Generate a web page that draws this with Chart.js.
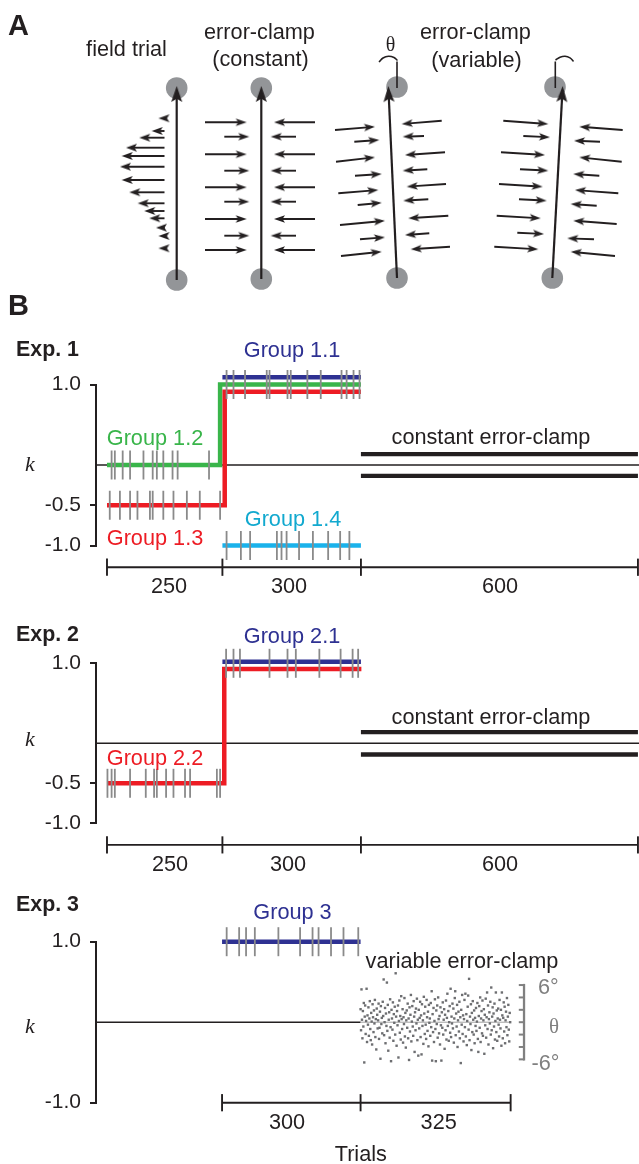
<!DOCTYPE html>
<html>
<head>
<meta charset="utf-8">
<title>Error-clamp paradigm</title>
<script src="https://cdn.jsdelivr.net/npm/chart.js@4.4.1/dist/chart.umd.min.js"></script>
<style>
  html, body { margin:0; padding:0; background:#fff; }
  #fig { position:relative; width:639px; height:1164px; overflow:hidden;
         font-family:"Liberation Sans", Arial, Helvetica, sans-serif; color:#231f20; }
  #fig canvas { position:absolute; left:0; }
  .lbl { position:absolute; white-space:nowrap; line-height:1; font-size:21.7px; }
  .c { transform:translate(-50%,-50%); }
  .l { transform:translate(0,-50%); }
  .b { font-weight:bold; }
  .s { font-family:"Liberation Serif", "Times New Roman", serif; }
  .i { font-style:italic; }
</style>
</head>
<body>
<div id="fig">
  <canvas id="panelA" width="639" height="300" style="top:0px"></canvas>
  <canvas id="exp1" width="639" height="270" style="top:330px"></canvas>
  <canvas id="exp2" width="639" height="270" style="top:610px"></canvas>
  <canvas id="exp3" width="639" height="279" style="top:885px"></canvas>
</div>
<script>
// ================= DATA =================
// ---- Panel A (schematic, drawing units) ----
const circleX = [176.7, 176.7, 261.3, 261.3, 397, 397, 555, 552.3];
const circleY = [88, 280, 88, 279, 87, 278, 87, 278];
const reachTailX = [176.7, 261.3, 397, 552.3];
const reachTailY = [280, 279, 278, 278];
const reachTipX  = [176.7, 261.3, 388.3, 562.7];
const reachTipY  = [86, 86, 86, 86];
// field trial: velocity-dependent force profile
const fieldRowY  = [118.3, 131, 137.7, 147.7, 156, 166.7, 180, 192.3, 203.3, 211, 218.3, 227.7, 236, 248.3];
const fieldTipX  = [158.5, 151.7, 139.3, 126, 121.7, 120, 121.7, 129.3, 137.7, 144.3, 149.3, 156, 158.5, 158.5];
const fieldTailX = [164.5, 164.5, 164.5, 164.5, 164.5, 164.5, 164.5, 164.5, 164.5, 164.5, 164.5, 164.5, 164.5, 164.5];
// constant error-clamp: channel walls
const constRowY       = [122.3, 136.7, 154.3, 170.7, 187.3, 201.7, 219, 235.7, 250];
const constLeftTailX  = [205, 224.3, 205, 224.3, 205, 224.3, 205, 224.3, 205];
const constLeftTipX   = [246.7, 249.3, 246.7, 249.3, 246.7, 249.3, 246.7, 249.3, 246.7];
const constRightTailX = [315, 296, 315, 296, 315, 296, 315, 296, 315];
const constRightTipX  = [274, 270.7, 274, 270.7, 274, 270.7, 274, 270.7, 274];
// variable error-clamp arrows: [tailX, tailY, tipX, tipY]
const var1Left = [[335,130,375,126.7],[354.3,141.7,379.3,140],[336,161.7,375,157.3],[355,175.7,381.7,174],[338.3,193.3,378.3,190],[357.7,205,381.7,202.7],[340,225,385,220.7],[360,239.3,385,237.3],[341,256,381.7,251.7]];
const var1Right = [[441.7,120.7,401.7,124],[424,136,402.7,136.7],[445,152.3,405,155],[427.3,169.3,402.7,170.7],[446,184,406.7,186.7],[428.3,199.3,403.3,200.7],[448.3,215.7,408.3,218.3],[429.3,233.3,405,235],[450,246.7,410.7,249.3]];
const var2Left = [[503.3,120.7,548.3,124],[523.3,136,550,137.3],[501,152.3,545,155],[520,169.3,548.3,170.7],[499,184,542.7,186.7],[519,199.3,546.7,200.7],[496.7,215.7,540.7,218.3],[517.3,232.7,544,234],[494.3,246.7,538.3,249.3]];
const var2Right = [[622.7,130,579.3,126.7],[600,141.7,574,140.7],[621.7,161.7,579.3,157.3],[599.3,175.7,573.3,174],[618.3,193.3,575,190],[596.7,205.7,570.7,204],[616.7,224,573.3,220.7],[594,239.3,567.3,238.3],[615,256,570.7,251.7]];
// angle θ markers
const refLineX = [397, 555.3];
const refLineY = [61.5, 88];
const arc1X = [379, 383, 388.5, 394, 397.5];
const arc1Y = [62, 58, 56.2, 57.5, 60.5];
const arc2X = [555.5, 560, 565, 570, 573.5];
const arc2Y = [60, 57.2, 56.2, 57.8, 61.5];

// ---- Panel B ----
const yTicksExp12 = [1.0, -0.5, -1.0];
const yTicksExp3  = [1.0, -1.0];
// Exp. 1 (trials)
const exp1Blocks = [0, 250, 550, 1150];
const g11Trials = [250, 550];          const g11K = [1.09, 1.09];
const g12Trials = [0, 245, 245, 550];  const g12K = [0, 0, 1.0, 1.0];
const g13Trials = [0, 255, 255, 550];  const g13K = [-0.5, -0.5, 0.91, 0.91];
const g14Trials = [250, 550];          const g14K = [-1.0, -1.0];
const exp1ClampBlock = [550, 1150];
const g12ClampTrials = [10, 17, 34, 50, 79, 99, 108, 122, 142, 153, 221];
const g13ClampTrials = [6, 28, 50, 66, 93, 99, 122, 144, 173, 201, 245];
const g11ClampTrials = [259, 274, 299, 346, 352, 391, 398, 434, 463, 508, 519, 534, 547];
const g14ClampTrials = [259, 290, 310, 368, 378, 389, 416, 446, 479, 505, 525];
// Exp. 2
const exp2Blocks = [0, 250, 550, 1150];
const g21Trials = [250, 550];          const g21K = [1.02, 1.02];
const g22Trials = [0, 254, 254, 551];  const g22K = [-0.5, -0.5, 0.93, 0.93];
const exp2ClampBlock = [550, 1150];
const g22ClampTrials = [1, 10, 17, 50, 84, 102, 108, 128, 144, 169, 180, 238, 245];
const g21ClampTrials = [258, 274, 288, 352, 391, 409, 460, 506, 532, 544];
// Exp. 3
const exp3Blocks = [0, 300, 625];
const g3Trials = [0, 300];             const g3K = [1.0, 1.0];
const g3ClampTrials = [10, 37, 52, 71, 122, 169, 196, 209, 236, 263, 295];
const varClampStart = 300;
const thetaTicks = [6, 4, 2, 0, -2, -4, -6];
// θ (deg) on each of the 325 variable error-clamp trials
const clampTheta = [
 2.1,-1.3,5.3,0.4,-2.6,1.8,-0.7,3.1,-6.5,0.9,2.7,-1.9,0.2,5.4,-3.2,1.1,-0.4,2.4,-2.2,0.6,3.4,-1.1,-2.9,1.5,0.1,
 -3.6,2.9,0.8,-1.6,1.9,-0.2,3.6,-2.4,0.5,-4.4,2.2,1.2,-1.0,0.3,3.0,-2.7,-0.9,1.7,-5.9,2.6,-0.3,0.7,-1.8,3.3,1.0,
 6.9,-2.1,0.0,2.3,-3.4,1.4,-0.6,6.4,-1.4,2.8,-4.6,0.4,1.6,-2.5,3.7,-0.8,-6.3,2.0,0.6,-1.2,3.2,-3.0,1.3,-0.1,2.5,
 -2.0,7.9,0.9,-3.8,1.8,-0.5,2.7,-5.7,0.2,3.5,-1.7,1.0,-2.8,4.2,0.5,-1.1,2.1,-3.3,0.8,-0.3,3.9,-2.3,1.5,-4.1,0.3,
 1.9,-0.9,3.0,-2.6,0.6,-6.1,2.4,-1.5,1.2,4.4,-3.1,0.1,2.6,-0.7,-2.2,3.4,0.9,-4.8,1.6,-1.3,2.2,-0.2,3.8,-2.9,0.4,
 -5.4,2.0,-1.0,0.7,3.3,-2.4,1.1,-5.2,2.9,-0.6,0.3,-3.5,4.1,1.4,-1.9,2.5,-0.4,-2.7,3.6,0.8,-1.4,1.7,-3.9,2.8,-0.1,
 0.6,-2.2,3.1,-0.8,5.0,-6.2,1.3,-1.6,2.3,-3.2,0.2,3.7,-1.1,-6.3,1.9,-0.3,2.7,-2.5,4.0,0.5,-1.8,1.0,-3.6,2.4,-0.5,
 -6.2,1.6,-0.9,3.2,-2.0,0.4,2.1,-4.3,1.2,-1.3,3.5,-2.8,0.7,4.6,-0.6,1.8,-3.0,0.0,2.6,-1.7,5.4,-2.4,0.9,-0.2,3.0,
 -1.0,2.2,-3.3,0.6,3.9,5.0,-2.1,1.4,-0.7,2.8,-4.0,0.3,1.7,-1.5,3.3,-2.6,0.8,-6.6,2.0,-0.4,4.4,-1.9,1.1,-3.1,0.5,
 3.6,-0.8,4.6,-2.3,1.3,-3.7,0.2,2.5,4.3,-1.2,7.0,-2.9,0.9,-0.3,2.9,-4.5,1.5,-1.6,3.4,0.4,-2.0,1.9,-3.4,0.7,-0.6,
 2.3,-1.4,0.1,3.1,-2.7,-4.8,1.0,2.6,-0.9,4.0,-3.2,0.6,1.8,-1.8,3.5,-2.2,0.3,2.1,-5.1,1.2,-0.5,3.8,-2.5,0.8,4.8,
 -1.1,2.7,-3.6,0.5,1.6,-0.2,3.3,-2.0,5.6,-1.3,0.9,2.4,-4.2,1.4,-0.7,3.0,-2.8,0.2,4.8,-1.6,1.9,-3.0,0.6,2.2,-0.4,
 -2.3,3.6,0.4,-1.0,2.0,-3.8,4.8,1.1,-2.6,0.7,3.2,-1.5,2.5,-3.4,0.3,1.7,-0.8,3.9,-2.1,0.9,2.8,-1.2,-3.1,1.5,0.0
];

// ================= STYLE / LAYOUT =================
const FONT = '"Liberation Sans", Arial, Helvetica, sans-serif';
const INK = '#231f20', BLUE = '#2e3192', GREEN = '#39b54a', RED = '#ed1c24';
const CYAN = '#1ab2eb', CYAN_TXT = '#12a9cf', TICKGRAY = '#8a8a8a', DOTGRAY = '#6d6e71';
const THETA_GRAY = '#808080', CIRCLE = '#939598';
const AXIS_X = 96;
const X12 = {min: -23.8, max: 1152.3};
const X3  = {min: -273, max: 903};
const CONST_OFF1 = 0.135, CONST_OFF2 = 0.14;
const BRACKET_H = 0.107;
const THETA_AXIS_TRIAL = 654, THETA_TICK_TRIAL = 648.5;

const pts = (xs, ys) => xs.map((x, i) => ({x, y: ys[i]}));
const level = (xs, k) => xs.map(x => ({x, y: k}));

function lineDS(data, color, width, order, extra) {
  return Object.assign({data, showLine: true, borderColor: color, backgroundColor: color,
    borderWidth: width, pointRadius: 0, pointHoverRadius: 0, tension: 0, fill: false,
    order, clip: false, borderCapStyle: 'butt', borderJoinStyle: 'miter'}, extra || {});
}
function tickDS(data, color, r, width, order, rot, axis) {
  return {data, showLine: false, pointStyle: 'line', pointRotation: rot, pointRadius: r,
    pointHoverRadius: r, pointBorderColor: color, pointBackgroundColor: color,
    pointBorderWidth: width, order, clip: false, yAxisID: axis || 'y'};
}
function bracketDS(bounds, yk) {
  const out = [lineDS(level([bounds[0], bounds[bounds.length - 1]], yk), INK, 1.9, 3)];
  bounds.forEach(b => out.push(lineDS([{x: b, y: yk - BRACKET_H}, {x: b, y: yk + BRACKET_H}], INK, 1.9, 3)));
  return out;
}
function yAxis(ticks) {
  return {type: 'linear', position: 'left', min: -1, max: 1, bounds: 'data',
    afterBuildTicks: s => { s.ticks = ticks.map(v => ({value: v})); },
    afterFit: s => { s.width = AXIS_X; },
    border: {display: true, color: INK, width: 2},
    grid: {display: true, drawOnChartArea: false, drawTicks: true, tickLength: 6, color: INK, lineWidth: 2},
    ticks: {color: INK, padding: 9, font: {family: FONT, size: 21}, callback: v => Number(v).toFixed(1)}
  };
}
const commonPlugins = {legend: {display: false}, tooltip: {enabled: false}, colors: {enabled: false}};

function expChart(id, canvasTop, areaTop, areaBottom, xr, yTicks, datasets, extraScales) {
  const cv = document.getElementById(id);
  return new Chart(cv, {
    type: 'scatter',
    data: {datasets},
    options: {
      responsive: false, animation: false, events: [],
      layout: {autoPadding: false,
               padding: {top: areaTop - canvasTop, bottom: canvasTop + cv.height - areaBottom, left: 0, right: 0}},
      scales: Object.assign({
        x: {type: 'linear', display: false, min: xr.min, max: xr.max, bounds: 'data'},
        y: yAxis(yTicks)
      }, extraScales || {}),
      plugins: commonPlugins
    }
  });
}

// ================= PANEL A =================
function makeHead(L, W, notch) {
  const c = document.createElement('canvas');
  c.width = Math.ceil(W) + 2; c.height = Math.ceil(2 * L) + 2;
  const g = c.getContext('2d');
  const cx = c.width / 2, ty = c.height / 2;
  g.fillStyle = INK;
  g.beginPath();
  g.moveTo(cx, ty);
  g.lineTo(cx + W / 2, ty + L);
  g.lineTo(cx, ty + L * (1 - notch));
  g.lineTo(cx - W / 2, ty + L);
  g.closePath(); g.fill();
  return c;
}
const HEAD = {
  big:   {L: 16, W: 11, img: makeHead(16, 11, 0.2), lw: 2.2},
  small: {L: 11, W: 7.5, img: makeHead(11, 7.5, 0.22), lw: 1.9},
  field: {L: 11, W: 8, img: makeHead(11, 8, 0.22), lw: 1.9}
};
const arrowsA = [];
reachTailX.forEach((x, i) => arrowsA.push({tx: x, ty: reachTailY[i], hx: reachTipX[i], hy: reachTipY[i], kind: 'big'}));
fieldRowY.forEach((y, i) => arrowsA.push({tx: fieldTailX[i], ty: y, hx: fieldTipX[i], hy: y, kind: 'field'}));
constRowY.forEach((y, i) => {
  arrowsA.push({tx: constLeftTailX[i], ty: y, hx: constLeftTipX[i], hy: y, kind: 'small'});
  arrowsA.push({tx: constRightTailX[i], ty: y, hx: constRightTipX[i], hy: y, kind: 'small'});
});
[var1Left, var1Right, var2Left, var2Right].forEach(list =>
  list.forEach(a => arrowsA.push({tx: a[0], ty: a[1], hx: a[2], hy: a[3], kind: 'small'})));

const dsA = [];
dsA.push({data: pts(circleX, circleY), showLine: false, pointStyle: 'circle', pointRadius: 10.8,
  pointHoverRadius: 10.8, pointBackgroundColor: CIRCLE, pointBorderWidth: 0, order: 20});
const headsByKind = {big: [], small: [], field: []};
arrowsA.forEach(a => {
  const dx = a.hx - a.tx, dy = a.hy - a.ty, len = Math.hypot(dx, dy);
  const h = HEAD[a.kind];
  const ex = a.hx - dx / len * h.L * 0.7, ey = a.hy - dy / len * h.L * 0.7;
  dsA.push(lineDS([{x: a.tx, y: a.ty}, {x: ex, y: ey}], INK, h.lw, 5));
  headsByKind[a.kind].push({x: a.hx, y: a.hy, a: Math.atan2(dx, -dy) * 180 / Math.PI});
});
Object.keys(headsByKind).forEach(k => {
  dsA.push({data: headsByKind[k], showLine: false, pointStyle: HEAD[k].img, pointRadius: 4,
    pointHoverRadius: 4, pointRotation: c => (c.raw ? c.raw.a : 0), order: 1});
});
refLineX.forEach(x => dsA.push(lineDS(refLineY.map(y => ({x, y})), INK, 1.6, 4)));
dsA.push(lineDS(pts(arc1X, arc1Y), INK, 1.5, 4, {tension: 0.4}));
dsA.push(lineDS(pts(arc2X, arc2Y), INK, 1.5, 4, {tension: 0.4}));

new Chart(document.getElementById('panelA'), {
  type: 'scatter',
  data: {datasets: dsA},
  options: {
    responsive: false, animation: false, events: [],
    layout: {autoPadding: false, padding: 0},
    scales: {
      x: {type: 'linear', display: false, min: 0, max: 639},
      y: {type: 'linear', display: false, min: 0, max: 300, reverse: true}
    },
    plugins: commonPlugins
  }
});

// ================= EXP 1 =================
expChart('exp1', 330, 384.5, 545.5, X12, yTicksExp12, [
  lineDS(level([X12.min, X12.max], 0), INK, 1.6, 9),
  lineDS(pts(g12Trials, g12K), GREEN, 4.5, 6),
  lineDS(pts(g13Trials, g13K), RED, 4.5, 5),
  lineDS(pts(g11Trials, g11K), BLUE, 4.5, 5),
  lineDS(pts(g14Trials, g14K), CYAN, 4.5, 5),
  lineDS(level(exp1ClampBlock, CONST_OFF1), INK, 4.3, 5),
  lineDS(level(exp1ClampBlock, -CONST_OFF1), INK, 4.3, 5),
  tickDS(level(g12ClampTrials, 0), TICKGRAY, 14.5, 1.8, 1, 90),
  tickDS(level(g13ClampTrials, -0.5), TICKGRAY, 14.5, 1.8, 1, 90),
  tickDS(level(g11ClampTrials, 1.0), TICKGRAY, 14.5, 1.8, 1, 90),
  tickDS(level(g14ClampTrials, -1.0), TICKGRAY, 14.5, 1.8, 1, 90),
  ...bracketDS(exp1Blocks, -1.27)
]);

// ================= EXP 2 =================
expChart('exp2', 610, 663.3, 823.3, X12, yTicksExp12, [
  lineDS(level([X12.min, X12.max], 0), INK, 1.6, 9),
  lineDS(pts(g22Trials, g22K), RED, 4.5, 5),
  lineDS(pts(g21Trials, g21K), BLUE, 4.5, 5),
  lineDS(level(exp2ClampBlock, CONST_OFF2), INK, 4.3, 5),
  lineDS(level(exp2ClampBlock, -CONST_OFF2), INK, 4.3, 5),
  tickDS(level(g22ClampTrials, -0.5), TICKGRAY, 14.5, 1.8, 1, 90),
  tickDS(level(g21ClampTrials, 1.0), TICKGRAY, 14.5, 1.8, 1, 90),
  ...bracketDS(exp2Blocks, -1.27)
]);

// ================= EXP 3 =================
expChart('exp3', 885, 941.7, 1102.7, X3, yTicksExp3, [
  lineDS(level([X3.min, varClampStart], 0), INK, 1.6, 9),
  lineDS(pts(g3Trials, g3K), BLUE, 4.5, 5),
  tickDS(level(g3ClampTrials, 1.0), TICKGRAY, 14.5, 1.8, 1, 90),
  lineDS(level([varClampStart, varClampStart + clampTheta.length], 0), '#a0a0a0', 1, 8, {yAxisID: 'yTheta'}),
  {data: clampTheta.map((v, i) => ({x: varClampStart + i, y: v})), yAxisID: 'yTheta', showLine: false,
   pointStyle: 'rect', pointRadius: 1.7, pointHoverRadius: 1.7, pointBackgroundColor: DOTGRAY,
   pointBorderWidth: 0, order: 4, clip: false},
  lineDS([{x: THETA_AXIS_TRIAL, y: thetaTicks[thetaTicks.length - 1]}, {x: THETA_AXIS_TRIAL, y: thetaTicks[0]}],
         THETA_GRAY, 2.3, 3, {yAxisID: 'yTheta', borderCapStyle: 'square'}),
  tickDS(thetaTicks.map(v => ({x: THETA_TICK_TRIAL, y: v})), THETA_GRAY, 2.7, 2, 3, 0, 'yTheta'),
  ...bracketDS(exp3Blocks, -1.0)
], {yTheta: {type: 'linear', display: false, min: -13, max: 13}});

// ================= TEXT =================
const labels = [
  {t: 'A', x: 8, y: 25, cls: 'l b', size: 29},
  {t: 'field trial', x: 126.5, y: 49},
  {t: 'error-clamp', x: 259.5, y: 32},
  {t: '(constant)', x: 260.5, y: 59},
  {t: 'θ', x: 390.5, y: 43.5, cls: 'c s', size: 20},
  {t: 'error-clamp', x: 475.5, y: 32},
  {t: '(variable)', x: 476.5, y: 60},
  {t: 'B', x: 8, y: 305, cls: 'l b', size: 29},
  {t: 'Exp. 1', x: 16, y: 349.5, cls: 'l b', size: 21.4},
  {t: 'Group 1.1', x: 292, y: 350, color: BLUE},
  {t: 'Group 1.2', x: 155, y: 437.5, color: GREEN},
  {t: 'Group 1.3', x: 155, y: 537.5, color: RED},
  {t: 'Group 1.4', x: 293, y: 519, color: CYAN_TXT},
  {t: 'k', x: 30, y: 463.5, cls: 'c s i', size: 22},
  {t: 'constant error-clamp', x: 491, y: 437},
  {t: '250', x: 169, y: 586}, {t: '300', x: 289, y: 586}, {t: '600', x: 500, y: 586},
  {t: 'Exp. 2', x: 16, y: 635, cls: 'l b', size: 21.4},
  {t: 'Group 2.1', x: 292, y: 636, color: BLUE},
  {t: 'Group 2.2', x: 155, y: 757.5, color: RED},
  {t: 'k', x: 30, y: 739, cls: 'c s i', size: 22},
  {t: 'constant error-clamp', x: 491, y: 717},
  {t: '250', x: 170, y: 863.5}, {t: '300', x: 288, y: 863.5}, {t: '600', x: 500, y: 863.5},
  {t: 'Exp. 3', x: 16, y: 905, cls: 'l b', size: 21.4},
  {t: 'Group 3', x: 292.5, y: 911.5, color: BLUE},
  {t: 'k', x: 30, y: 1026, cls: 'c s i', size: 22},
  {t: 'variable error-clamp', x: 462, y: 960.5},
  {t: '6°', x: 538, y: 987, cls: 'l', color: THETA_GRAY},
  {t: 'θ', x: 554, y: 1026, cls: 'c s', color: THETA_GRAY, size: 21},
  {t: '-6°', x: 531.5, y: 1063, cls: 'l', color: THETA_GRAY},
  {t: '300', x: 287, y: 1122}, {t: '325', x: 438.7, y: 1122},
  {t: 'Trials', x: 360.8, y: 1154}
];
const fig = document.getElementById('fig');
labels.forEach(o => {
  const d = document.createElement('div');
  d.className = 'lbl ' + (o.cls || 'c');
  d.textContent = o.t;
  d.style.left = o.x + 'px';
  d.style.top = o.y + 'px';
  if (o.size) d.style.fontSize = o.size + 'px';
  if (o.color) d.style.color = o.color;
  fig.appendChild(d);
});
</script>
</body>
</html>
